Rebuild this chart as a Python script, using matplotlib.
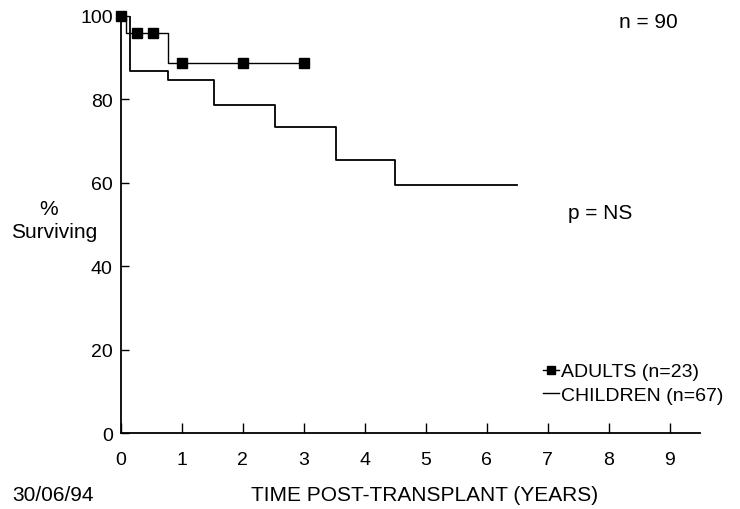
import matplotlib
matplotlib.use("Agg")
import matplotlib.pyplot as plt
from matplotlib.lines import Line2D

plt.rcParams['font.family'] = ['Liberation Sans', 'DejaVu Sans']

# Children survival steps (time in years, % surviving)
children_t = [0.0, 0.15, 0.77, 1.53, 2.52, 3.52, 4.5, 6.5]
children_s = [100, 86.8, 84.7, 78.6, 73.4, 65.4, 59.4, 59.4]

# Adults survival steps
adults_t = [0.0, 0.08, 0.77, 3.0]
adults_s = [100, 96.0, 88.7, 88.7]
# Adult censor markers
adults_mt = [0.0, 0.27, 0.52, 1.0, 2.0, 3.0]
adults_ms = [100, 96.0, 96.0, 88.7, 88.7, 88.7]

xticks = [0, 1, 2, 3, 4, 5, 6, 7, 8, 9]
yticks = [0, 20, 40, 60, 80, 100]

fig = plt.figure(figsize=(7.4, 5.1), dpi=100)
ax = fig.add_axes([0.1635, 0.149, 0.7825, 0.818])

ax.step(children_t, children_s, where='post', color='black', lw=1.3)
ax.step(adults_t, adults_s, where='post', color='black', lw=1.0)
ax.plot(adults_mt, adults_ms, ls='none', marker='s', ms=6.5, color='black', clip_on=False)

ax.set_xlim(0, 9.5)
ax.set_ylim(0, 100)
ax.set_xticks(xticks)
ax.set_yticks(yticks)
ax.tick_params(direction='in', width=1, labelsize=14)
ax.tick_params(axis='x', length=7, pad=13)
ax.tick_params(axis='y', length=6, pad=6)
for s in ['top', 'right']:
    ax.spines[s].set_visible(False)
for s in ['left', 'bottom']:
    ax.spines[s].set_linewidth(1.3)

fs = 15
fig.text(0.876, 0.955, 'n = 90', fontsize=fs, ha='center', va='center')
fig.text(0.811, 0.582, 'p = NS', fontsize=fs, ha='center', va='center')
fig.text(0.066, 0.590, '%', fontsize=fs, ha='center', va='center')
fig.text(0.073, 0.545, 'Surviving', fontsize=fs, ha='center', va='center')
fig.text(0.016, 0.029, '30/06/94', fontsize=fs, ha='left', va='center')
fig.text(0.574, 0.029, 'TIME POST-TRANSPLANT (YEARS)', fontsize=fs, ha='center', va='center')

handles = [Line2D([], [], color='black', lw=1.0, marker='s', ms=6),
           Line2D([], [], color='black', lw=1.0)]
ax.legend(handles, ['ADULTS (n=23)', 'CHILDREN (n=67)'], loc='lower left',
          bbox_to_anchor=(0.729, 0.07), frameon=False, fontsize=14,
          handlelength=0.8, handletextpad=0.1, labelspacing=0.3, borderpad=0,
          borderaxespad=0)

fig.savefig('out.png', dpi=100)
